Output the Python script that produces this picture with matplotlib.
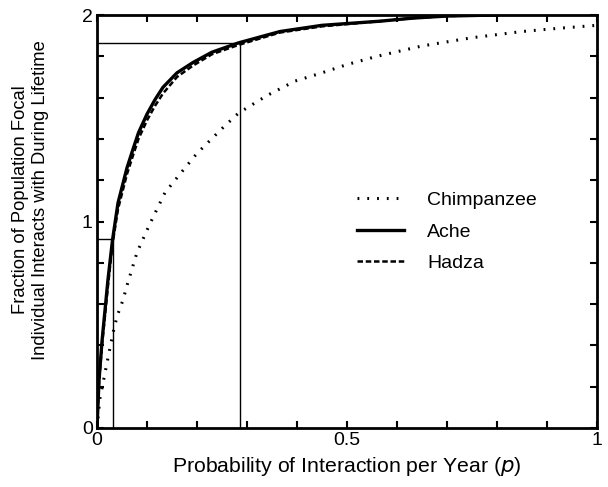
import numpy as np
import matplotlib.pyplot as plt

plt.rcParams['font.family'] = ['Liberation Sans', 'DejaVu Sans']

# values
p_ache = [0, 0.004, 0.01, 0.022, 0.031, 0.042, 0.06, 0.072, 0.083, 0.1, 0.116, 0.132, 0.16, 0.192,
          0.23, 0.283, 0.366, 0.45, 0.566, 0.632, 0.7, 0.8]
y_ache = [0, 0.23, 0.42, 0.72, 0.91, 1.09, 1.26, 1.35, 1.43, 1.52, 1.59, 1.65, 1.72, 1.77,
          1.82, 1.865, 1.92, 1.95, 1.97, 1.985, 1.995, 2.0]

p_hadza = [0, 0.004, 0.01, 0.022, 0.031, 0.042, 0.06, 0.072, 0.083, 0.1, 0.116, 0.132, 0.16, 0.192,
           0.23, 0.283, 0.366, 0.45, 0.566, 0.632, 0.7, 0.8]
y_hadza = [0, 0.22, 0.40, 0.69, 0.89, 1.06, 1.23, 1.32, 1.40, 1.49, 1.56, 1.62, 1.70, 1.755,
           1.81, 1.855, 1.915, 1.945, 1.97, 1.985, 1.995, 2.0]

p_chimp = [0, 0.006, 0.013, 0.022, 0.032, 0.04, 0.052, 0.06, 0.08, 0.106, 0.136, 0.166, 0.2,
           0.25, 0.283, 0.34, 0.396, 0.45, 0.5, 0.56, 0.65, 0.75, 0.85, 0.92, 1.0]
y_chimp = [0, 0.145, 0.23, 0.34, 0.46, 0.54, 0.62, 0.69, 0.85, 0.99, 1.14, 1.23, 1.33,
           1.45, 1.525, 1.61, 1.68, 1.72, 1.76, 1.80, 1.85, 1.89, 1.92, 1.935, 1.95]

# guide lines: (p, value) pairs
guide_p = [0.031, 0.285]
guide_y = [0.915, 1.865]

xticks = np.round(np.arange(0, 1.01, 0.1), 1)
xticklabels = ['0', '', '', '', '', '0.5', '', '', '', '', '1']
yticks = np.round(np.arange(0, 2.01, 0.2), 1)
yticklabels = ['0', '', '', '', '', '1', '', '', '', '', '2']

fig = plt.figure(figsize=(6.08, 4.87), dpi=100)
ax = fig.add_axes([97 / 608, 59 / 487, 500 / 608, 413 / 487])

for gp, gy in zip(guide_p, guide_y):
    ax.plot([gp, gp], [0, gy], color='black', lw=1.0)
    ax.plot([0, gp], [gy, gy], color='black', lw=1.0)

ax.plot(p_chimp, y_chimp, color='black', lw=2.2, linestyle=(0, (0.6, 2.6)),
        dash_capstyle='butt', label='Chimpanzee')
ax.plot(p_ache, y_ache, color='black', lw=2.4, label='Ache')
ax.plot(p_hadza, y_hadza, color='black', lw=1.8, linestyle=(0, (2.2, 1.1)), label='Hadza')

ax.set_xlim(0, 1)
ax.set_ylim(0, 2)
ax.set_xticks(xticks)
ax.set_xticklabels(xticklabels)
ax.set_yticks(yticks)
ax.set_yticklabels(yticklabels)
ax.tick_params(direction='in', length=5, width=1.5, top=True, right=True,
               labelsize=14, pad=3)
for s in ax.spines.values():
    s.set_linewidth(2)

ax.set_xlabel('Probability of Interaction per Year ($\\it{p}$)', fontsize=15.3, labelpad=4)
ax.set_ylabel('Fraction of Population Focal\nIndividual Interacts with During Lifetime',
              fontsize=13.2, linespacing=1.25)
ax.yaxis.set_label_coords(-0.096, 0.552)

ax.legend(loc='center left', bbox_to_anchor=(0.485, 0.475), frameon=False, fontsize=14,
          handlelength=2.4, handletextpad=1.2, labelspacing=0.72)

fig.savefig('out.png', dpi=100)
